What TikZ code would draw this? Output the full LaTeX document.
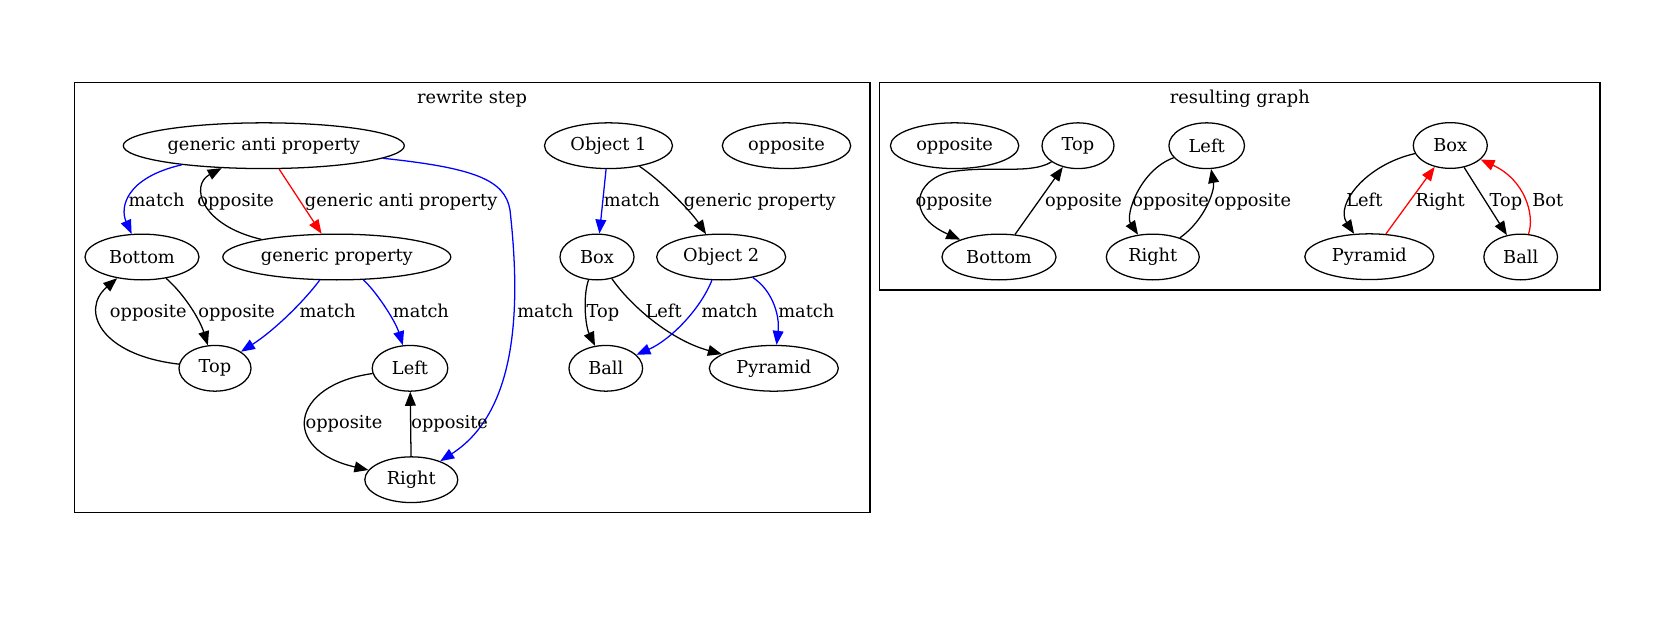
\documentclass[tikz,border=0pt]{standalone}
\usepackage{fontspec}
\setmainfont{DejaVu Serif}
\usetikzlibrary{shapes.geometric}
\usetikzlibrary{arrows.meta}

\begin{document}
\begin{tikzpicture}[
        x=0.7874pt, y=-0.7874pt,
        every node/.append style={font=\fontsize{14pt}{17pt}\selectfont},
        every path/.append style={line width=1pt},
        vertex/.style={draw=black, ellipse, inner xsep=0pt, minimum height=36pt, minimum width=#1},
        link/.style={-{Triangle[length=11pt,width=8.5pt]}},
        matchlink/.style={link, blue},
        antilink/.style={link, red},
        lbl/.style={anchor=base west, inner sep=0pt, text=black},
        clabel/.style={anchor=base, inner sep=0pt}
    ]
        \useasboundingbox (0,0) rectangle (1657,623);

        % rewrite step
        \draw (74.3,82.7) rectangle (870,512.7);
        \node (c1) [clabel] at (472,103.3) {rewrite step};

        \node (1) [vertex=221.3pt] at (263.8,145.7) {generic anti property};
        \node (2) [vertex=89.8pt] at (142,257) {Bottom};
        \node (3) [vertex=179.5pt] at (336.8,257) {generic property};
        \node (4) [vertex=56.7pt] at (215,368.3) {Top};
        \node (5) [vertex=59.5pt] at (410,368.3) {Left};
        \node (6) [vertex=73.2pt] at (411.3,479.7) {Right};
        \node (7) [vertex=100.8pt] at (608.5,145.7) {Object 1};
        \node (8) [vertex=101.1pt] at (786.5,145.7) {opposite};
        \node (9) [vertex=58.3pt] at (597,257) {Box};
        \node (10) [vertex=101.6pt] at (721.2,257) {Object 2};
        \node (11) [vertex=58pt] at (605.8,368.3) {Ball};
        \node (12) [vertex=101.6pt] at (773.8,368.3) {Pyramid};

        \draw[matchlink] (1) .. controls (125,178) and (120,208) .. (2)
            node[lbl] at (128,206.3) {match};
        \draw[link] (3) .. controls (200,225) and (190,185) .. (1)
            node[lbl] at (196.7,206.3) {opposite};
        \draw[antilink] (1) -- (3) node[lbl] at (304.3,206.3) {generic anti property};
        \draw[matchlink] (1) .. controls (475,168) and (505,180) .. (510,210)
            .. controls (520,300) and (520,410) .. (6)
            node[lbl] at (516.7,317.6) {match};
        \draw[link] (2) .. controls (185,295) and (200,320) .. (4)
            node[lbl] at (197.7,317.6) {opposite};
        \draw[link] (4) .. controls (100,355) and (80,310) .. (2)
            node[lbl] at (109.3,317.6) {opposite};
        \draw[matchlink] (3) .. controls (305,300) and (275,330) .. (4)
            node[lbl] at (299,317.6) {match};
        \draw[matchlink] (3) .. controls (375,290) and (395,320) .. (5)
            node[lbl] at (392.3,317.6) {match};
        \draw[link] (5) .. controls (290,385) and (280,450) .. (6)
            node[lbl] at (305,428.9) {opposite};
        \draw[link] (6) -- (5) node[lbl] at (410.7,428.9) {opposite};
        \draw[matchlink] (7) -- (9) node[lbl] at (603.3,206.3) {match};
        \draw[link] (7) .. controls (660,180) and (690,210) .. (10)
            node[lbl] at (683.3,206.3) {generic property};
        \draw[link] (9) .. controls (583,295) and (585,325) .. (11)
            node[lbl] at (586,317.6) {Top};
        \draw[link] (9) .. controls (630,305) and (670,340) .. (12)
            node[lbl] at (645,317.6) {Left};
        \draw[matchlink] (10) .. controls (700,310) and (670,340) .. (11)
            node[lbl] at (701,317.6) {match};
        \draw[matchlink] (10) .. controls (772,290) and (780,315) .. (12)
            node[lbl] at (777.7,317.6) {match};

        % resulting graph
        \draw (879.5,82.7) rectangle (1600,290);
        \node (c2) [clabel] at (1239.8,103.3) {resulting graph};

        \node (13) [vertex=101.1pt] at (954.6,145.7) {opposite};
        \node (14) [vertex=56.7pt] at (1078,145.7) {Top};
        \node (15) [vertex=59.5pt] at (1206.7,145.7) {Left};
        \node (16) [vertex=58.3pt] at (1450.3,145.5) {Box};
        \node (17) [vertex=89.8pt] at (999,257) {Bottom};
        \node (18) [vertex=73.2pt] at (1152.8,257) {Right};
        \node (19) [vertex=101.6pt] at (1369.3,256.7) {Pyramid};
        \node (20) [vertex=58pt] at (1520.7,257) {Ball};

        \draw[link] (14) .. controls (1030,175) and (990,165) .. (950,172)
            .. controls (915,180) and (905,215) .. (17)
            node[lbl] at (915,206.3) {opposite};
        \draw[link] (17) -- (14) node[lbl] at (1044.5,206.3) {opposite};
        \draw[link] (15) .. controls (1140,170) and (1125,215) .. (18)
            node[lbl] at (1131.7,206.3) {opposite};
        \draw[link] (18) .. controls (1205,220) and (1215,190) .. (15)
            node[lbl] at (1213.8,206.3) {opposite};
        \draw[link] (16) .. controls (1365,165) and (1335,205) .. (19)
            node[lbl] at (1345.7,206.3) {Left};
        \draw[antilink] (19) -- (16) node[lbl] at (1415,206.3) {Right};
        \draw[link] (16) -- (20) node[lbl] at (1489,206.3) {Top};
        \draw[antilink] (20) .. controls (1535,215) and (1525,180) .. (16)
            node[lbl] at (1531.7,206.3) {Bot};
    \end{tikzpicture}
\end{document}
